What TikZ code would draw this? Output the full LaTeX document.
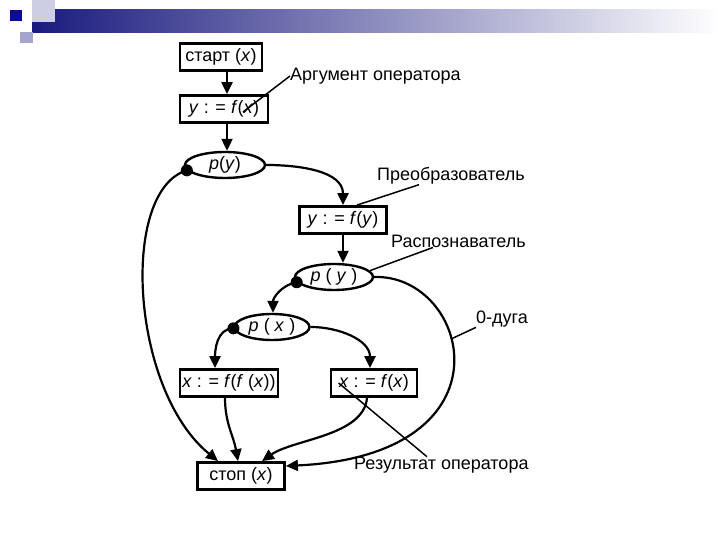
\documentclass[tikz,border=0pt]{standalone}
\usepackage{fontspec}
\setmainfont{Liberation Sans}
\usetikzlibrary{arrows.meta,shapes.geometric}
\definecolor{barc}{HTML}{1A1A7E}
\definecolor{sqd}{HTML}{0C0C8C}
\definecolor{sqm}{HTML}{A4A4CE}
\definecolor{sql}{HTML}{CDCDE3}
\tikzset{
  ar/.style={-{Triangle[length=12pt,width=11pt]},line width=2.2pt},
  bx/.style={draw,line width=2.8pt,minimum height=27pt,inner sep=2pt,font=\fontsize{18}{21}\selectfont},
  ov/.style={ellipse,draw,line width=2.4pt,minimum height=26pt,inner sep=0pt,font=\fontsize{18}{21}\selectfont},
  tx/.style={anchor=west,inner sep=0pt,font=\fontsize{18}{21}\selectfont},
  ld/.style={line width=1.5pt},
  dt/.style={fill,circle,minimum size=12pt,inner sep=0pt}
}
\newcommand{\vi}[1]{\textit{#1}}

\begin{document}
\begin{tikzpicture}[x=1pt,y=1pt]
\useasboundingbox (0,0) rectangle (720,540);
\shade[left color=barc,right color=white] (32,507) rectangle (720,530);
\fill[sql] (32,518) rectangle (55,540);
\fill[sqd] (10,519) rectangle (22,530);
\fill[sqm] (20,497) rectangle (33,508);
\node[bx,minimum width=82pt] (st) at (221,483) {старт (\vi{x})};
\node[bx,minimum width=88pt] (yfx) at (224,431) {\vi{y} : = \vi{f}(\vi{x})};
\node[ov,minimum width=80pt] (py1) at (225,375) {\vi{p}(\vi{y})};
\node[bx,minimum width=87pt] (yfy) at (343,320) {\vi{y} : = \vi{f}(\vi{y})};
\node[ov,minimum width=78pt] (py2) at (334,263) {\vi{p} ( \vi{y} )};
\node[ov,minimum width=75pt] (px) at (272,213) {\vi{p} ( \vi{x} )};
\node[bx,minimum width=98pt] (xffx) at (229,157) {\vi{x} : = \vi{f}(\vi{f} (\vi{x}))};
\node[bx,minimum width=86pt] (xfx) at (374,157) {\vi{x} : = \vi{f}(\vi{x})};
\node[bx,minimum width=87pt] (sp) at (241,64) {стоп (\vi{x})};
\node[dt] (d1) at (py1.188) {};
\node[dt] (d2) at (py2.188) {};
\node[dt] (d3) at (px.182) {};
\node[tx] (arg) at (290,464) {Аргумент оператора};
\node[tx] (pre) at (377,364) {Преобразователь};
\node[tx] (ras) at (391,299) {Распознаватель};
\node[tx] (odg) at (476,221) {0-дуга};
\node[tx] (res) at (354,75) {Результат оператора};
\draw[ar] ([xshift=3pt]yfx.north |- st.south) -- ([xshift=3pt]yfx.north);
\draw[ar] ([xshift=3pt]yfx.south) -- ([xshift=3pt]yfx.south |- py1.north);
\draw[ar] (py1.east) to[out=0,in=90] (yfy.north);
\draw[ar] (yfy.south) -- (yfy.south |- py2.north);
\draw[ar] (d2.center) to[out=190,in=90] ([xshift=1pt]px.north);
\draw[ar] (d3.center) to[out=180,in=90] ([xshift=-14pt]xffx.north);
\draw[ar] (px.east) to[out=0,in=90] ([xshift=-4pt]xfx.north);
\draw[ar] ([xshift=-4pt]xffx.south) to[out=-90,in=100] ([xshift=-3pt]sp.north);
\draw[ar] ([xshift=-7pt]xfx.south) to[out=-95,in=35,looseness=0.8] ([xshift=21pt]sp.north);
\draw[ar] (d1.center) .. controls +(-67,-20) and +(-88,72) .. ([xshift=-23pt]sp.north);
\draw[ar] (py2.east) .. controls +(95,3) and +(232,11) .. coordinate[pos=0.4] (arcpt) ([yshift=10pt]sp.east);
\draw[ld] (arg.west) -- ([xshift=19pt,yshift=-3pt]yfx.center);
\draw[ld] ([xshift=42pt]pre.south west) -- ([xshift=14pt]yfy.north);
\draw[ld] ([xshift=42pt]ras.south west) -- (py2.10);
\draw[ld] (odg.south west) -- (arcpt);
\draw[ld] ([xshift=73pt]res.north west) -- ([xshift=9pt]xfx.west);
\end{tikzpicture}
\end{document}
